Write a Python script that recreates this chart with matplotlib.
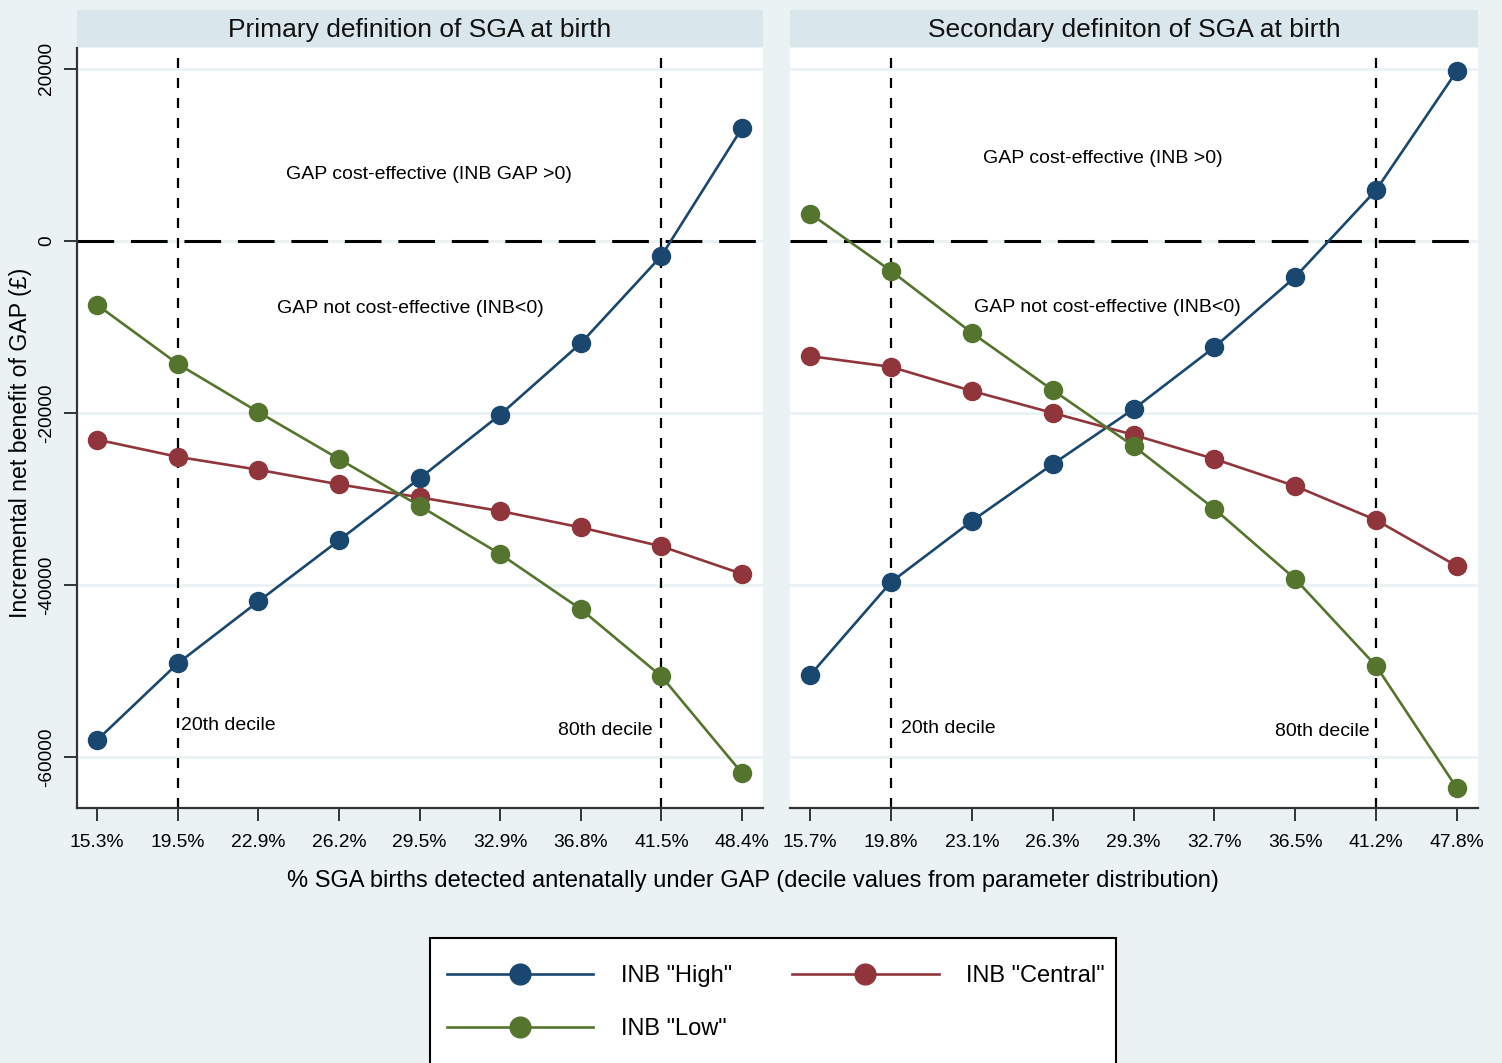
import matplotlib
matplotlib.use("Agg")
import matplotlib.pyplot as plt
from matplotlib.patches import Rectangle

plt.rcParams['font.family'] = ['Liberation Sans', 'DejaVu Sans']

# decile values of % SGA detected (tick labels)
primary_ticks = ["15.3%", "19.5%", "22.9%", "26.2%", "29.5%", "32.9%", "36.8%", "41.5%", "48.4%"]
secondary_ticks = ["15.7%", "19.8%", "23.1%", "26.3%", "29.3%", "32.7%", "36.5%", "41.2%", "47.8%"]

# incremental net benefit (GBP), primary definition
primary_high = [-58000, -49100, -41900, -34800, -27600, -20200, -11900, -1750, 13100]
primary_central = [-23100, -25100, -26600, -28300, -29800, -31400, -33300, -35500, -38700]
primary_low = [-7450, -14300, -19900, -25350, -30800, -36400, -42800, -50600, -61850]

# incremental net benefit (GBP), secondary definition
secondary_high = [-50450, -39650, -32550, -25950, -19550, -12350, -4200, 5900, 19750]
secondary_central = [-13400, -14650, -17450, -20000, -22550, -25350, -28500, -32450, -37800]
secondary_low = [3150, -3500, -10700, -17350, -23850, -31150, -39300, -49400, -63600]

decile_positions = [2, 8]
yticks = [20000, 0, -20000, -40000, -60000]

BG = '#EAF2F3'
STRIP = '#D9E6EB'
NAVY = '#1A476F'
MAROON = '#90353B'
GREEN = '#55752F'

fig = plt.figure(figsize=(15.02, 10.63), dpi=100, facecolor=BG)
W, H = 1502.0, 1063.0


def px_axes(x0, x1, y0, y1):
    return fig.add_axes([x0 / W, 1 - y1 / H, (x1 - x0) / W, (y1 - y0) / H])


ax1 = px_axes(77, 763, 48, 808)
ax2 = px_axes(790, 1478, 48, 808)

panels = [
    (ax1, primary_ticks, primary_high, primary_central, primary_low,
     "Primary definition of SGA at birth",
     "GAP cost-effective (INB GAP >0)", (5.11, 7700),
     "GAP not cost-effective (INB<0)", (4.88, -7900),
     (2.04, -56300), (7.89, -56900)),
    (ax2, secondary_ticks, secondary_high, secondary_central, secondary_low,
     "Secondary definiton of SGA at birth",
     "GAP cost-effective (INB >0)", (4.62, 9600),
     "GAP not cost-effective (INB<0)", (4.68, -7750),
     (2.12, -56700), (7.92, -57050)),
]

x = list(range(1, 10))
handles = []
for i, (ax, ticks, hi, ce, lo, title, txt_pos, pos_xy, txt_neg, neg_xy, d20, d80) in enumerate(panels):
    ax.set_facecolor('white')
    ax.set_xlim(0.75, 9.26)
    ax.set_ylim(-65900, 22400)
    ax.set_yticks(yticks)
    ax.set_yticklabels([str(v) for v in yticks], rotation=90, va='center', fontsize=13.7)
    ax.set_xticks(x)
    ax.set_xticklabels(ticks, fontsize=13.9)
    ax.grid(axis='y', color=BG, linewidth=2.0)
    ax.set_axisbelow(True)
    for s in ['top', 'right']:
        ax.spines[s].set_visible(False)
    ax.spines['bottom'].set_linewidth(1.6)
    ax.spines['bottom'].set_color('#333333')
    ax.spines['left'].set_linewidth(1.6)
    ax.spines['left'].set_color('#333333')
    ax.tick_params(axis='both', length=9.5, width=1.4, color='#333333', pad=6)
    ax.tick_params(axis='x', pad=9)
    if i == 1:
        ax.spines['left'].set_visible(False)
        ax.tick_params(axis='y', left=False, labelleft=False)

    # reference lines
    ax.axhline(0, color='black', linewidth=2.2, dashes=(12, 5.5), zorder=2)
    for d in decile_positions:
        ax.axvline(d, color='black', linewidth=1.6, dashes=(4.5, 4.5), zorder=2)

    lh, = ax.plot(x, hi, '-o', color=NAVY, lw=1.9, ms=13, zorder=3, label='INB "High"')
    lc, = ax.plot(x, ce, '-o', color=MAROON, lw=1.9, ms=13, zorder=3, label='INB "Central"')
    ll, = ax.plot(x, lo, '-o', color=GREEN, lw=1.9, ms=13, zorder=3, label='INB "Low"')
    if i == 0:
        handles = [lh, ll, lc]

    ax.text(pos_xy[0], pos_xy[1], txt_pos, ha='center', va='center', fontsize=14)
    ax.text(neg_xy[0], neg_xy[1], txt_neg, ha='center', va='center', fontsize=14)
    ax.text(d20[0], d20[1], "20th decile", ha='left', va='center', fontsize=14)
    ax.text(d80[0], d80[1], "80th decile", ha='right', va='center', fontsize=14)

    # title strip
    bb = ax.get_position()
    fig.patches.append(Rectangle((bb.x0, 1 - 47 / H), bb.width, 37 / H,
                                 transform=fig.transFigure, facecolor=STRIP,
                                 edgecolor='none', zorder=0))
    fig.text(bb.x0 + bb.width / 2, 1 - 30 / H, title, ha='center', va='center',
             fontsize=19, color='#111111')

ax1.set_ylabel("Incremental net benefit of GAP (£)", fontsize=16.7)
ax1.yaxis.set_label_coords(-0.066, 0.481)
fig.text(753 / W, 1 - 881 / H,
         "% SGA births detected antenatally under GAP (decile values from parameter distribution)",
         ha='center', va='center', fontsize=17)

# legend box
fig.patches.append(Rectangle((430 / W, -0.05), 686 / W, 0.05 + (H - 938) / H,
                             transform=fig.transFigure, facecolor='white',
                             edgecolor='black', linewidth=1.5, zorder=0))
fig.legend(handles, [h.get_label() for h in handles], ncol=2, frameon=False,
           loc='upper left', bbox_to_anchor=(447 / W, 1 - 965 / H),
           borderpad=0, borderaxespad=0, fontsize=17, handlelength=6.2,
           handletextpad=1.16, columnspacing=2.55, labelspacing=1.33,
           markerscale=1.15)

fig.savefig("out.png", dpi=100, facecolor=BG)
